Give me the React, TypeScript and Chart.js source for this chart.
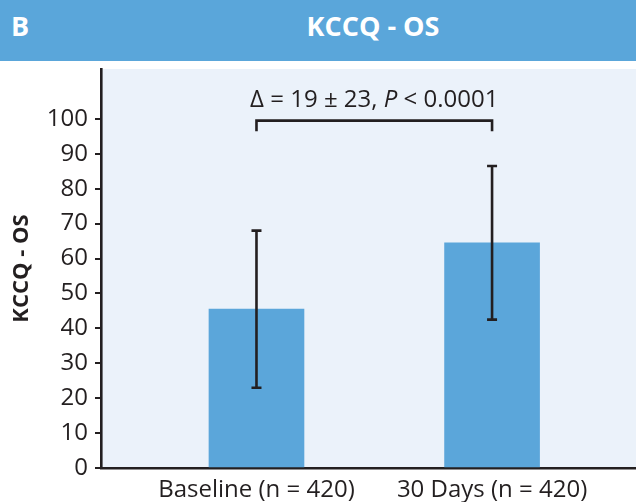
import React, { useEffect, useRef } from "react";
import { Chart, registerables } from "chart.js";

Chart.register(...registerables);

const categories = ["Baseline (n = 420)", "30 Days (n = 420)"];
const xPositions = [1, 2];
const meanValues = [45.5, 64.5];
const errLow = [23, 42.5];
const errHigh = [68, 86.5];
const yTicks = [0, 10, 20, 30, 40, 50, 60, 70, 80, 90, 100];
const annotationParts = [
  { text: "Δ = 19 ± 23, ", italic: false },
  { text: "P", italic: true },
  { text: " < 0.0001", italic: false },
];
const bracketTop = 99.5;
const bracketLegEnd = 96.5;
const annotationY = 105.4;

const DARK = "#231f20";
const BLUE = "#5ba6da";
const PLOT_BG = "#ebf2fa";
const FONT = '"Open Sans", "Noto Sans", sans-serif';

const bgPlugin = {
  id: "plotBg",
  beforeDraw(chart: any) {
    const { ctx, chartArea } = chart;
    ctx.save();
    ctx.fillStyle = PLOT_BG;
    ctx.fillRect(chartArea.left, chartArea.top, chartArea.right - chartArea.left, chartArea.bottom - chartArea.top);
    ctx.restore();
  },
};

const overlayPlugin = {
  id: "overlay",
  afterDatasetsDraw(chart: any) {
    const { ctx } = chart;
    const xs = chart.scales.x;
    const ys = chart.scales.y;
    ctx.save();
    ctx.strokeStyle = DARK;
    ctx.lineWidth = 2.6;
    ctx.lineCap = "butt";
    // error bars
    xPositions.forEach((xv, i) => {
      const px = xs.getPixelForValue(xv);
      const pLo = ys.getPixelForValue(errLow[i]);
      const pHi = ys.getPixelForValue(errHigh[i]);
      ctx.beginPath();
      ctx.moveTo(px, pLo);
      ctx.lineTo(px, pHi);
      ctx.moveTo(px - 5, pLo);
      ctx.lineTo(px + 5, pLo);
      ctx.moveTo(px - 5, pHi);
      ctx.lineTo(px + 5, pHi);
      ctx.stroke();
    });
    // bracket
    const x1 = xs.getPixelForValue(xPositions[0]);
    const x2 = xs.getPixelForValue(xPositions[1]);
    const yTop = ys.getPixelForValue(bracketTop);
    const yLeg = ys.getPixelForValue(bracketLegEnd);
    ctx.beginPath();
    ctx.moveTo(x1, yLeg);
    ctx.lineTo(x1, yTop);
    ctx.lineTo(x2, yTop);
    ctx.lineTo(x2, yLeg);
    ctx.stroke();
    // annotation text
    const fonts = annotationParts.map((p) => (p.italic ? `italic 24px ${FONT}` : `24px ${FONT}`));
    let total = 0;
    const widths = annotationParts.map((p, i) => {
      ctx.font = fonts[i];
      const w = ctx.measureText(p.text).width;
      total += w;
      return w;
    });
    let cx = (x1 + x2) / 2 - total / 2;
    const ty = ys.getPixelForValue(annotationY);
    ctx.fillStyle = DARK;
    ctx.textBaseline = "middle";
    ctx.textAlign = "left";
    annotationParts.forEach((p, i) => {
      ctx.font = fonts[i];
      ctx.fillText(p.text, cx, ty);
      cx += widths[i];
    });
    ctx.restore();
  },
};

export default function App() {
  const canvasRef = useRef<HTMLCanvasElement | null>(null);

  useEffect(() => {
    const canvas = canvasRef.current;
    if (!canvas) return;
    const chart = new Chart(canvas, {
      type: "bar",
      data: {
        datasets: [
          {
            data: xPositions.map((x, i) => ({ x, y: meanValues[i] })) as any,
            backgroundColor: BLUE,
            borderWidth: 0,
            barThickness: 95,
          },
        ],
      },
      options: {
        animation: false,
        responsive: false,
        devicePixelRatio: 1,
        layout: { padding: { top: 8, left: 0, right: 0, bottom: 0 } },
        plugins: {
          legend: { display: false },
          tooltip: { enabled: false },
        },
        scales: {
          x: {
            type: "linear",
            min: 0.34,
            max: 2.611,
            offset: false,
            afterBuildTicks: (s: any) => {
              s.ticks = xPositions.map((v) => ({ value: v }));
            },
            afterFit: (s: any) => {
              s.height = 34;
              s.paddingLeft = 0;
              s.paddingRight = 0;
            },
            border: { display: true, color: DARK, width: 2.6 },
            grid: { display: false, drawTicks: false },
            ticks: {
              autoSkip: false,
              maxRotation: 0,
              color: DARK,
              padding: 8,
              font: { family: FONT, size: 24 },
              callback: (v: any) => {
                const idx = xPositions.indexOf(Number(v));
                return idx >= 0 ? categories[idx] : "";
              },
            },
          },
          y: {
            type: "linear",
            min: 0,
            max: 114.3,
            afterBuildTicks: (s: any) => {
              s.ticks = yTicks.map((v) => ({ value: v }));
            },
            afterFit: (s: any) => {
              s.width = 101;
              s.paddingTop = 0;
              s.paddingBottom = 0;
            },
            border: { display: true, color: DARK, width: 2.6 },
            grid: { drawOnChartArea: false, drawTicks: true, tickLength: 6, color: DARK, lineWidth: 2 },
            ticks: {
              color: DARK,
              padding: 7,
              font: { family: FONT, size: 24 },
            },
            title: {
              display: true,
              text: "KCCQ - OS",
              color: DARK,
              font: { family: FONT, size: 22, weight: "bold" },
              padding: { top: 9, bottom: 0 },
            },
          },
        },
      },
      plugins: [bgPlugin, overlayPlugin],
    });
    return () => chart.destroy();
  }, []);

  return (
    <div style={{ position: "absolute", left: 0, top: 0, width: 636, height: 502, background: "#ffffff", overflow: "hidden" }}>
      <div style={{ position: "absolute", left: 0, top: 0, width: 636, height: 61, background: "#5aa6da" }}>
        <span
          style={{
            position: "absolute",
            left: 11,
            top: 0,
            lineHeight: "52px",
            fontFamily: FONT,
            fontWeight: "bold",
            fontSize: 27,
            color: "#ffffff",
          }}
        >
          B
        </span>
        <span
          style={{
            position: "absolute",
            left: 373,
            top: 0,
            transform: "translateX(-50%)",
            whiteSpace: "nowrap",
            lineHeight: "52px",
            fontFamily: FONT,
            fontWeight: "bold",
            fontSize: 27,
            color: "#ffffff",
          }}
        >
          KCCQ - OS
        </span>
      </div>
      <canvas
        ref={canvasRef}
        width={636}
        height={441}
        style={{ position: "absolute", left: 0, top: 61, width: 636, height: 441 }}
      />
    </div>
  );
}
